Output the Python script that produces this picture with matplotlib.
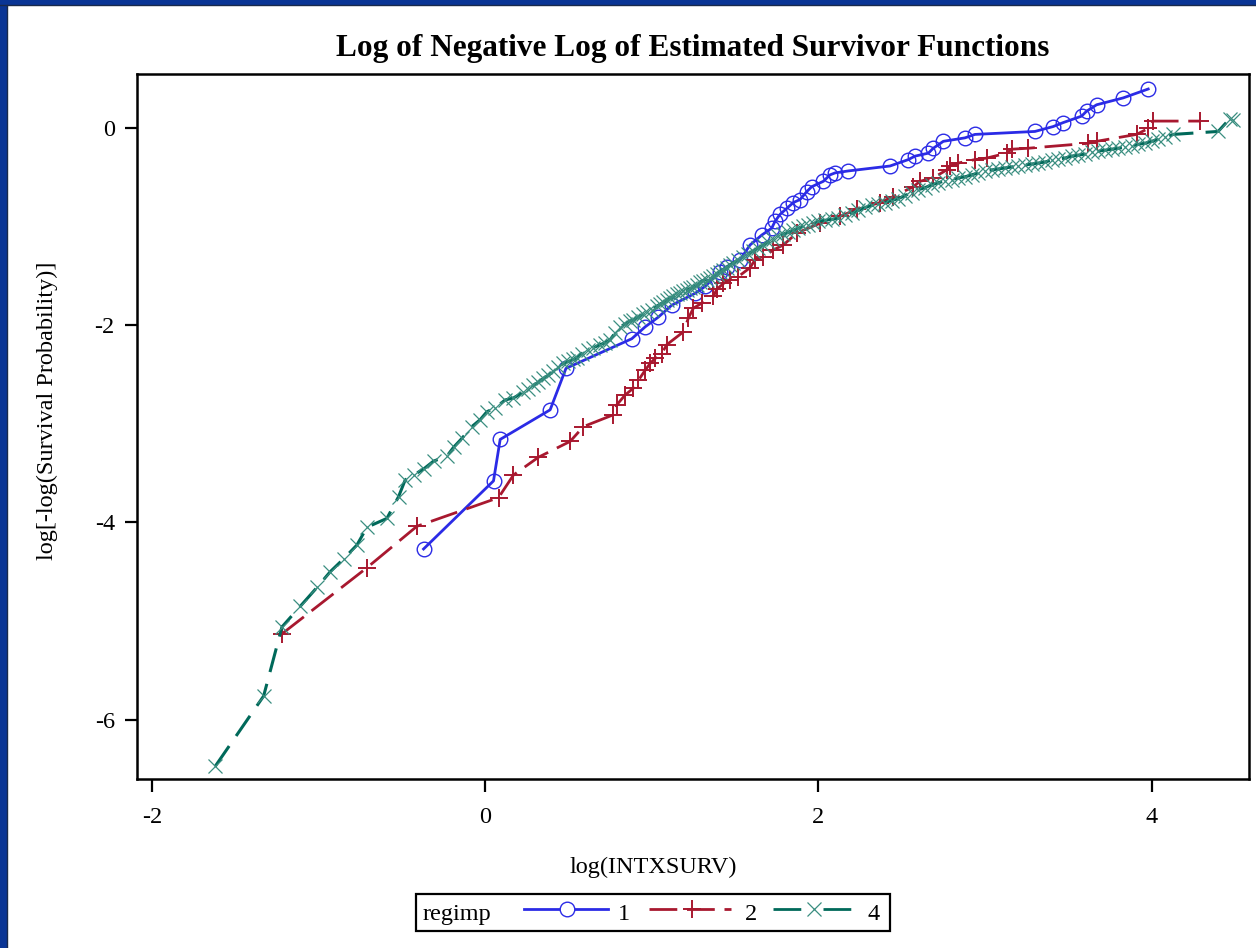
import matplotlib
matplotlib.use('Agg')
import matplotlib.pyplot as plt
from matplotlib.lines import Line2D
from matplotlib.patches import Rectangle

# regimp = 1
x1 = [-0.37, 0.05, 0.09, 0.39, 0.485, 0.88, 0.96, 1.04, 1.12, 1.26,
      1.32, 1.41, 1.45, 1.53, 1.59, 1.66, 1.72, 1.74, 1.77, 1.81,
      1.85, 1.89, 1.93, 1.96, 2.03, 2.07, 2.10, 2.18, 2.43, 2.54,
      2.58, 2.66, 2.69, 2.75, 2.88, 2.94, 3.30, 3.41, 3.47, 3.58,
      3.61, 3.67, 3.83, 3.98]
y1 = [-4.27, -3.58, -3.16, -2.86, -2.44, -2.14, -2.02, -1.92, -1.80, -1.68,
      -1.61, -1.46, -1.41, -1.34, -1.19, -1.09, -1.02, -0.95, -0.88, -0.82,
      -0.76, -0.73, -0.65, -0.60, -0.545, -0.48, -0.46, -0.44, -0.39, -0.325,
      -0.29, -0.26, -0.21, -0.14, -0.105, -0.07, -0.04, 0.01, 0.05, 0.115,
      0.165, 0.23, 0.30, 0.39]

# regimp = 2
x2 = [-1.22, -0.71, -0.41, 0.08, 0.17, 0.32, 0.51, 0.59, 0.77, 0.79,
      0.84, 0.89, 0.92, 0.96, 0.99, 1.02, 1.06, 1.09, 1.19, 1.22,
      1.25, 1.30, 1.37, 1.39, 1.43, 1.47, 1.52, 1.59, 1.62, 1.67,
      1.73, 1.79, 1.87, 2.01, 2.13, 2.23, 2.37, 2.45, 2.57, 2.61,
      2.69, 2.77, 2.79, 2.84, 2.94, 3.01, 3.13, 3.16, 3.26, 3.62,
      3.67, 3.91, 3.98, 4.01, 4.29]
y2 = [-5.13, -4.46, -4.04, -3.75, -3.52, -3.34, -3.18, -3.03, -2.91, -2.81,
      -2.71, -2.64, -2.56, -2.46, -2.39, -2.34, -2.29, -2.20, -2.07, -1.93,
      -1.83, -1.78, -1.71, -1.64, -1.58, -1.54, -1.51, -1.42, -1.34, -1.31,
      -1.24, -1.19, -1.07, -0.97, -0.90, -0.83, -0.76, -0.70, -0.60, -0.545,
      -0.51, -0.43, -0.39, -0.36, -0.325, -0.31, -0.26, -0.22, -0.21, -0.16,
      -0.14, -0.07, -0.01, 0.065, 0.065]

# regimp = 4
x4 = [-1.62, -1.33, -1.22, -1.11, -1.01, -0.93, -0.85, -0.77, -0.71, -0.59,
      -0.52, -0.48, -0.43, -0.37, -0.31, -0.23, -0.19, -0.14, -0.08, -0.03,
      0.01, 0.06, 0.12, 0.17, 0.23, 0.26, 0.29, 0.32, 0.35, 0.38,
      0.41, 0.44, 0.47, 0.50, 0.53, 0.55, 0.58, 0.62, 0.65, 0.69,
      0.72, 0.75, 0.78, 0.81, 0.84, 0.87, 0.89, 0.92, 0.95, 0.97,
      1.00, 1.03, 1.05, 1.07, 1.09, 1.11, 1.13, 1.15, 1.17, 1.19,
      1.21, 1.23, 1.25, 1.27, 1.29, 1.31, 1.33, 1.35, 1.37, 1.39,
      1.41, 1.43, 1.45, 1.47, 1.49, 1.52, 1.55, 1.58, 1.61, 1.64,
      1.67, 1.70, 1.73, 1.76, 1.79, 1.82, 1.85, 1.88, 1.91, 1.94,
      1.97, 2.00, 2.04, 2.08, 2.12, 2.16, 2.20, 2.24, 2.28, 2.32,
      2.36, 2.40, 2.44, 2.48, 2.52, 2.56, 2.60, 2.64, 2.68, 2.72,
      2.76, 2.80, 2.84, 2.88, 2.92, 2.96, 3.00, 3.04, 3.08, 3.12,
      3.16, 3.20, 3.24, 3.28, 3.32, 3.36, 3.40, 3.44, 3.48, 3.52,
      3.56, 3.60, 3.64, 3.68, 3.72, 3.76, 3.80, 3.84, 3.88, 3.92,
      3.96, 4.00, 4.04, 4.08, 4.13, 4.40, 4.47, 4.49]
y4 = [-6.47, -5.76, -5.06, -4.85, -4.66, -4.50, -4.37, -4.23, -4.05, -3.96,
      -3.74, -3.57, -3.52, -3.46, -3.38, -3.33, -3.24, -3.15, -3.03, -2.96,
      -2.88, -2.84, -2.76, -2.74, -2.68, -2.65, -2.61, -2.58, -2.54, -2.51,
      -2.47, -2.43, -2.39, -2.37, -2.35, -2.33, -2.29, -2.25, -2.23, -2.20,
      -2.18, -2.15, -2.08, -2.02, -1.99, -1.96, -1.95, -1.92, -1.89, -1.87,
      -1.85, -1.81, -1.79, -1.77, -1.75, -1.73, -1.71, -1.69, -1.68, -1.66,
      -1.65, -1.63, -1.62, -1.60, -1.57, -1.55, -1.54, -1.52, -1.50, -1.48,
      -1.46, -1.44, -1.42, -1.39, -1.37, -1.34, -1.31, -1.28, -1.25, -1.22,
      -1.19, -1.16, -1.13, -1.10, -1.08, -1.06, -1.04, -1.02, -1.00, -0.99,
      -0.97, -0.95, -0.94, -0.93, -0.92, -0.89, -0.87, -0.84, -0.81, -0.79,
      -0.78, -0.76, -0.74, -0.72, -0.69, -0.66, -0.63, -0.61, -0.58, -0.56,
      -0.54, -0.53, -0.51, -0.50, -0.48, -0.46, -0.44, -0.43, -0.42, -0.41,
      -0.40, -0.39, -0.38, -0.37, -0.36, -0.35, -0.33, -0.32, -0.31, -0.29,
      -0.28, -0.27, -0.25, -0.24, -0.23, -0.22, -0.21, -0.20, -0.19, -0.17,
      -0.16, -0.14, -0.12, -0.10, -0.07, -0.04, 0.09, 0.08]

xticks = [-2, 0, 2, 4]
yticks = [-6, -4, -2, 0]

W, H = 1256, 948
blue = '#2b2be6'
red = '#a8182f'
green = '#00695a'
green_mk = '#3a8e80'
serif = 'Liberation Serif'

def fx(px):
    return px / W

def fy(py):
    return 1 - py / H

fig = plt.figure(figsize=(W / 100, H / 100), dpi=100)
fig.patch.set_facecolor('white')

# dark blue frame on top and left
fig.patches.append(Rectangle((0, fy(4)), 1, 4 / H, transform=fig.transFigure, color='#0a3595', zorder=0))
fig.patches.append(Rectangle((0, 0), 6 / W, 1, transform=fig.transFigure, color='#0a3595', zorder=0))
fig.add_artist(Line2D([0, 1], [fy(4.5), fy(4.5)], transform=fig.transFigure, color='#1a2a4a', lw=1))
fig.add_artist(Line2D([fx(6.5), fx(6.5)], [0, fy(4.5)], transform=fig.transFigure, color='#1a2a4a', lw=1))

ax = fig.add_axes([fx(137), fy(779), (1249 - 137) / W, (779 - 74) / H])

ax.plot(x1, y1, color=blue, lw=2.0, linestyle='-', marker='o', ms=10.5,
        mfc='none', mec=blue, mew=1.0)
ax.plot(x2, y2, color=red, lw=2.0, linestyle=(0, (10, 3.5)), marker='+', ms=13,
        mec=red, mew=1.4)
ax.plot(x4, y4, color=green, lw=2.2, linestyle=(0, (8, 4)), marker='x', ms=10.5,
        mec=green_mk, mew=0.9)

ax.set_xlim(-2.09, 4.585)
ax.set_ylim(-6.60, 0.542)
ax.set_xticks(xticks)
ax.set_yticks(yticks)
ax.set_xticklabels([str(t) for t in xticks], fontsize=17.5, family=serif)
ax.set_yticklabels([str(t) for t in yticks], fontsize=17.5, family=serif)
ax.tick_params(axis='x', direction='out', length=9, width=1.6, pad=11)
ax.tick_params(axis='y', direction='out', length=9, width=1.6, pad=7)
for s in ax.spines.values():
    s.set_linewidth(1.8)

fig.text(fx(693), fy(56), 'Log of Negative Log of Estimated Survivor Functions',
         ha='center', va='baseline', fontsize=22.5, fontweight='bold', family=serif)
fig.text(fx(653), fy(873), 'log(INTXSURV)', ha='center', va='baseline',
         fontsize=17.5, family=serif)
fig.text(fx(47), fy(411), 'log[-log(Survival Probability)]', ha='center', va='center',
         rotation=90, fontsize=17.5, family=serif)

# legend drawn by hand to keep the SAS layout
fig.patches.append(Rectangle((fx(416), fy(931)), (890 - 416) / W, (931 - 894) / H,
                             transform=fig.transFigure, fill=False, ec='black', lw=1.6))
ly = fy(909)
fig.text(fx(423), fy(920), 'regimp', ha='left', va='baseline', fontsize=17.5, family=serif)
fig.add_artist(Line2D([fx(524), fx(608)], [ly, ly], transform=fig.transFigure, color=blue, lw=2.0))
fig.add_artist(Line2D([fx(567)], [ly], transform=fig.transFigure, marker='o', ms=10.5,
                      mfc='white', mec=blue, mew=1.0, lw=0))
fig.text(fx(618), fy(920), '1', ha='left', va='baseline', fontsize=17.5, family=serif)
fig.add_artist(Line2D([fx(649), fx(731)], [ly, ly], transform=fig.transFigure, color=red,
                      lw=2.0, linestyle=(0, (10, 3.5))))
fig.add_artist(Line2D([fx(692)], [ly], transform=fig.transFigure, marker='+', ms=13,
                      mec=red, mew=1.4, lw=0))
fig.text(fx(745), fy(920), '2', ha='left', va='baseline', fontsize=17.5, family=serif)
fig.add_artist(Line2D([fx(773), fx(855)], [ly, ly], transform=fig.transFigure, color=green,
                      lw=2.0, linestyle=(0, (10, 8))))
fig.add_artist(Line2D([fx(814)], [ly], transform=fig.transFigure, marker='x', ms=10.5,
                      mec=green_mk, mew=0.9, lw=0))
fig.text(fx(868), fy(920), '4', ha='left', va='baseline', fontsize=17.5, family=serif)

fig.savefig('out.png', dpi=100)
